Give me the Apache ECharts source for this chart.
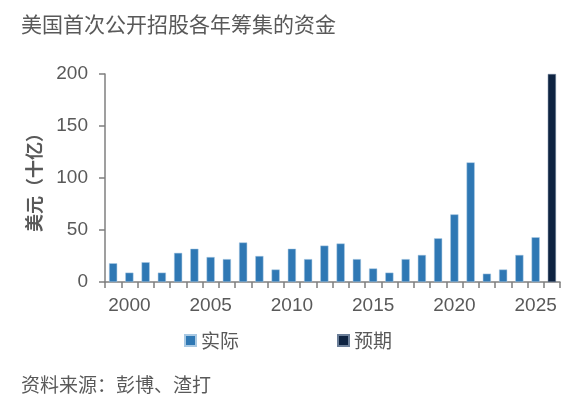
<!DOCTYPE html>
<html>
<head>
<meta charset="utf-8">
<script src="https://cdn.jsdelivr.net/npm/echarts@6/dist/echarts.min.js"></script>
<style>
html, body { margin: 0; padding: 0; background: #fff; }
#chart { width: 588px; height: 408px; }
</style>
</head>
<body>
<div id="chart"></div>
<script>
// years on the x axis
const years = ['1999', '2000', '2001', '2002', '2003', '2004', '2005', '2006', '2007', '2008',
    '2009', '2010', '2011', '2012', '2013', '2014', '2015', '2016', '2017', '2018',
    '2019', '2020', '2021', '2022', '2023', '2024', '2025', '2026'];
// 实际 (USD bn)
const actual = [18, 9, 19, 9, 28, 32, 24, 22, 38, 25, 12, 32, 22, 35, 37, 22, 13, 9, 22, 26,
    42, 65, 115, 8, 12, 26, 43, null];
// 预期
const expected = [null, null, null, null, null, null, null, null, null, null, null, null, null, null,
    null, null, null, null, null, null, null, null, null, null, null, null, null, 200];
const yTicks = [0, 50, 100, 150, 200];

const textColor = '#595959';
const axisColor = '#7f7f7f';
const fontFam = '"Liberation Sans", Arial, "Noto Sans CJK SC", sans-serif';
const cjkFam = '"Noto Sans CJK SC", sans-serif';

const chart = echarts.init(document.getElementById('chart'));
chart.setOption({
    animation: false,
    backgroundColor: '#fff',
    title: [{
        text: '美国首次公开招股各年筹集的资金',
        left: 16, top: 9,
        textStyle: { color: textColor, fontSize: 21, fontWeight: 'normal', fontFamily: cjkFam }
    }, {
        text: '资料来源：彭博、渣打',
        left: 16, top: 370,
        textStyle: { color: textColor, fontSize: 19, fontWeight: 'normal', fontFamily: cjkFam }
    }],
    legend: {
        top: 326,
        left: 179,
        itemGap: 98,
        itemWidth: 11, itemHeight: 11,
        icon: 'rect',
        textStyle: { color: textColor, fontSize: 19, fontFamily: cjkFam },
        data: ['实际', '预期']
    },
    grid: { left: 105, right: 28, top: 74, bottom: 126 },
    xAxis: {
        type: 'category',
        data: years,
        boundaryGap: true,
        axisLine: { lineStyle: { color: axisColor, width: 1.5 } },
        axisTick: { show: true, length: 6, alignWithLabel: false, interval: 0, lineStyle: { color: axisColor, width: 1.5 } },
        axisLabel: {
            color: textColor, fontSize: 19, fontFamily: fontFam, margin: 14,
            interval: (i, v) => Number(v) % 5 === 0
        }
    },
    yAxis: {
        type: 'value',
        min: yTicks[0], max: yTicks[yTicks.length - 1], interval: 50,
        name: '美元（十亿）',
        nameLocation: 'middle',
        nameGap: 62,
        nameRotate: 90,
        nameTextStyle: { color: textColor, fontSize: 18, fontWeight: 'bold', fontFamily: cjkFam },
        axisLine: { show: true, lineStyle: { color: axisColor, width: 1.5 } },
        axisTick: { show: true, length: 6, lineStyle: { color: axisColor, width: 1.5 } },
        splitLine: { show: false },
        axisLabel: { color: textColor, fontSize: 19, fontFamily: fontFam, margin: 17 }
    },
    series: [{
        name: '实际',
        type: 'bar',
        stack: 'ipo',
        barWidth: '50%',
        data: actual,
        itemStyle: { color: '#2f78b4', borderColor: '#a9c9e3', borderWidth: 0.5 }
    }, {
        name: '预期',
        type: 'bar',
        stack: 'ipo',
        barWidth: '50%',
        data: expected,
        itemStyle: { color: '#0e2341', borderColor: '#6c7f99', borderWidth: 0.5 }
    }]
});
</script>
</body>
</html>
